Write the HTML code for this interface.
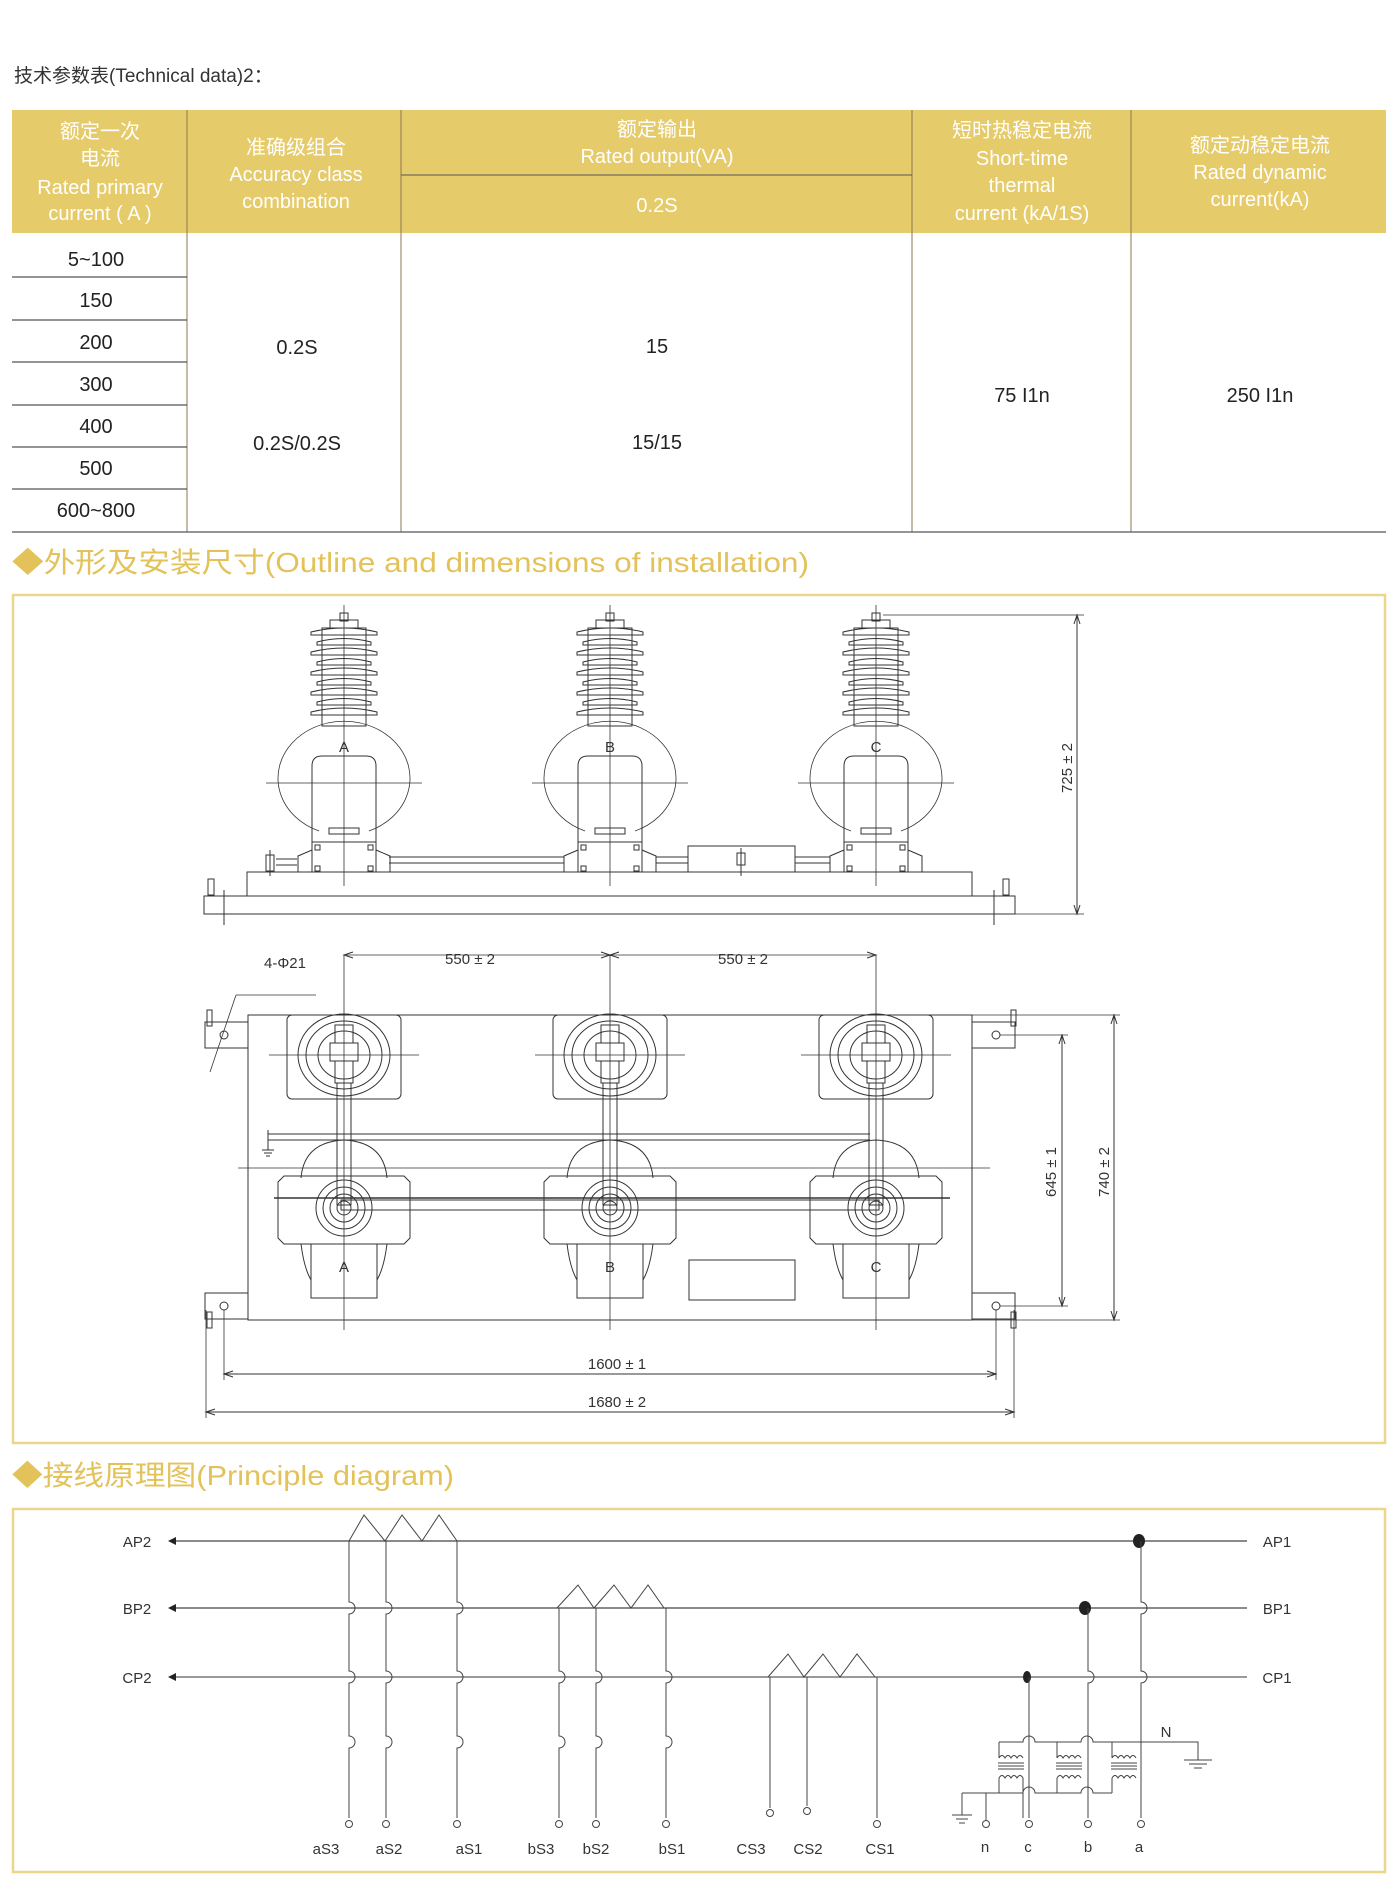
<!DOCTYPE html>
<html><head><meta charset="utf-8">
<style>
html,body{margin:0;padding:0;background:#fff;}
body{width:1399px;height:1891px;position:relative;overflow:hidden;font-family:"Liberation Sans","Noto Sans CJK SC",sans-serif;}
svg{position:absolute;left:0;top:0;}
</style></head><body>
<svg width="1399" height="1891" viewBox="0 0 1399 1891" xmlns="http://www.w3.org/2000/svg" font-family="Liberation Sans, Noto Sans CJK SC, sans-serif">
<defs>
<g id="front" fill="none" stroke="#333" stroke-width="1">
  <rect x="-4" y="613" width="8" height="8"/>
  <rect x="-14" y="620" width="28" height="8"/>
  <rect x="-22" y="628" width="44" height="98"/>
  <path d="M-33 632 Q0 624 33 632 L33 635 L-33 635Z"/>
  <path d="M-27 642 Q0 635 27 642 L27 645 L-27 645Z"/>
  <path d="M-33 652 Q0 644 33 652 L33 655 L-33 655Z"/>
  <path d="M-27 662 Q0 655 27 662 L27 665 L-27 665Z"/>
  <path d="M-33 672 Q0 664 33 672 L33 675 L-33 675Z"/>
  <path d="M-27 682 Q0 675 27 682 L27 685 L-27 685Z"/>
  <path d="M-33 692 Q0 684 33 692 L33 695 L-33 695Z"/>
  <path d="M-27 702 Q0 695 27 702 L27 705 L-27 705Z"/>
  <path d="M-33 712 Q0 704 33 712 L33 715 L-33 715Z"/>
  <path d="M-25 831 A66 57 0 1 1 25 831" stroke-width="0.8"/>
  <path d="M-32 872 V766 Q-32 756 -22 756 H22 Q32 756 32 766 V872"/>
  <rect x="-15" y="828" width="30" height="6"/>
  <path d="M-46 872 V856 L-32 850 M46 872 V856 L32 850"/>
  <line x1="-32" y1="842" x2="32" y2="842"/>
  <rect x="-29" y="845" width="5" height="5"/><rect x="24" y="845" width="5" height="5"/>
  <rect x="-29" y="866" width="5" height="5"/><rect x="24" y="866" width="5" height="5"/>
  <line x1="0" y1="605" x2="0" y2="886" stroke-width="0.8"/>
  <line x1="-78" y1="783" x2="78" y2="783" stroke-width="0.8"/>
</g>
<g id="top" fill="none" stroke="#333" stroke-width="1">
  <rect x="-57" y="1015" width="114" height="84" rx="5"/>
  <ellipse cx="0" cy="1055" rx="46" ry="41"/>
  <ellipse cx="0" cy="1055" rx="38" ry="34"/>
  <ellipse cx="0" cy="1055" rx="26" ry="24"/>
  <rect x="-9" y="1025" width="18" height="18"/>
  <rect x="-14" y="1043" width="28" height="18"/>
  <rect x="-9" y="1061" width="18" height="22"/>
  <line x1="-75" y1="1055" x2="75" y2="1055" stroke-width="0.7"/>
  <rect x="-7" y="1083" width="14" height="122"/>
  <path d="M-43 1178 Q-40 1142 0 1140 Q40 1142 43 1178"/>
  <path d="M-66 1182 L-60 1176 H60 L66 1182 V1238 L60 1244 H-60 L-66 1238Z"/>
  <path d="M-43 1244 Q-40 1268 -33 1280 M43 1244 Q40 1268 33 1280"/>
  <circle cx="0" cy="1208" r="28"/><circle cx="0" cy="1208" r="21"/><circle cx="0" cy="1208" r="14"/><circle cx="0" cy="1208" r="7"/>
  <rect x="-33" y="1244" width="66" height="54"/>
  <line x1="0" y1="955" x2="0" y2="1330" stroke-width="0.8"/>
</g>
</defs>

<text x="14" y="82" font-size="19" fill="#333">技术参数表(Technical data)2：</text>

<rect x="12" y="110" width="1374" height="123" fill="#e6cb6a"/>
<g stroke="#8a7a50" stroke-width="1">
<line x1="187" y1="110" x2="187" y2="532"/>
<line x1="401" y1="110" x2="401" y2="532"/>
<line x1="912" y1="110" x2="912" y2="532"/>
<line x1="1131" y1="110" x2="1131" y2="532"/>
<line x1="401" y1="175" x2="912" y2="175" stroke="#555"/>
</g>
<g stroke="#555" stroke-width="1.3">
<line x1="12" y1="277" x2="187" y2="277"/>
<line x1="12" y1="320" x2="187" y2="320"/>
<line x1="12" y1="362" x2="187" y2="362"/>
<line x1="12" y1="405" x2="187" y2="405"/>
<line x1="12" y1="447" x2="187" y2="447"/>
<line x1="12" y1="489" x2="187" y2="489"/>
<line x1="12" y1="532" x2="1386" y2="532"/>
</g>
<g fill="#fff" font-size="20" text-anchor="middle">
<text x="100" y="138">额定一次</text>
<text x="100" y="165">电流</text>
<text x="100" y="194">Rated primary</text>
<text x="100" y="220">current ( A )</text>
<text x="296" y="154">准确级组合</text>
<text x="296" y="181">Accuracy class</text>
<text x="296" y="208">combination</text>
<text x="657" y="136">额定输出</text>
<text x="657" y="163">Rated output(VA)</text>
<text x="657" y="212">0.2S</text>
<text x="1022" y="137">短时热稳定电流</text>
<text x="1022" y="165">Short-time</text>
<text x="1022" y="192">thermal</text>
<text x="1022" y="220">current (kA/1S)</text>
<text x="1260" y="152">额定动稳定电流</text>
<text x="1260" y="179">Rated dynamic</text>
<text x="1260" y="206">current(kA)</text>
</g>
<g fill="#222" font-size="20" text-anchor="middle">
<text x="96" y="266">5~100</text>
<text x="96" y="307">150</text>
<text x="96" y="349">200</text>
<text x="96" y="391">300</text>
<text x="96" y="433">400</text>
<text x="96" y="475">500</text>
<text x="96" y="517">600~800</text>
<text x="297" y="354">0.2S</text>
<text x="297" y="450">0.2S/0.2S</text>
<text x="657" y="353">15</text>
<text x="657" y="449">15/15</text>
<text x="1022" y="402">75 I1n</text>
<text x="1260" y="402">250 I1n</text>
</g>

<text x="12" y="572" font-size="28" fill="#e3c25a" textLength="797" lengthAdjust="spacingAndGlyphs">◆外形及安装尺寸(Outline and dimensions of installation)</text>
<text x="12" y="1485" font-size="28" fill="#e3c25a" textLength="442" lengthAdjust="spacingAndGlyphs">◆接线原理图(Principle diagram)</text>

<rect x="13" y="595" width="1372" height="848" fill="none" stroke="#ecd68a" stroke-width="2.5"/>
<rect x="13" y="1509" width="1372" height="363" fill="none" stroke="#ecd68a" stroke-width="2.5"/>

<g fill="none" stroke="#333" stroke-width="1">
<rect x="247" y="872" width="725" height="24"/>
<rect x="204" y="896" width="811" height="18"/>
<line x1="389" y1="857" x2="564" y2="857"/><line x1="389" y1="863" x2="564" y2="863"/>
<line x1="656" y1="857" x2="688" y2="857"/><line x1="656" y1="863" x2="688" y2="863"/>
<line x1="795" y1="857" x2="830" y2="857"/><line x1="795" y1="863" x2="830" y2="863"/>
<line x1="276" y1="859" x2="297" y2="859"/><line x1="276" y1="865" x2="297" y2="865"/>
<rect x="266" y="855" width="8" height="16"/><line x1="270" y1="850" x2="270" y2="876"/>
<rect x="688" y="846" width="107" height="26"/>
<rect x="737" y="853" width="8" height="12"/><line x1="741" y1="848" x2="741" y2="876"/>
<rect x="208" y="879" width="6" height="16"/><rect x="1003" y="879" width="6" height="16"/>
<line x1="224" y1="890" x2="224" y2="925"/><line x1="994" y1="890" x2="994" y2="925"/>
<line x1="1015" y1="914" x2="1084" y2="914" stroke-width="0.8"/>
<line x1="883" y1="615" x2="1084" y2="615" stroke-width="0.8"/>
<line x1="1077" y1="615" x2="1077" y2="914"/>
<path d="M1074 624 L1077 615 L1080 624 M1074 905 L1077 914 L1080 905" />
</g>
<use href="#front" x="344"/><use href="#front" x="610"/><use href="#front" x="876"/>
<g font-size="15" fill="#333" text-anchor="middle">
<text x="344" y="752">A</text><text x="610" y="752">B</text><text x="876" y="752">C</text>
<text x="0" y="0" transform="translate(1072,768) rotate(-90)">725 ± 2</text>
</g>

<g fill="none" stroke="#333" stroke-width="1">
<rect x="248" y="1015" width="724" height="305"/>
<rect x="205" y="1022" width="43" height="26"/><rect x="972" y="1022" width="43" height="26"/>
<rect x="205" y="1293" width="43" height="26"/><rect x="972" y="1293" width="43" height="26"/>
<circle cx="224" cy="1035" r="4"/><circle cx="996" cy="1035" r="4"/><circle cx="224" cy="1306" r="4"/><circle cx="996" cy="1306" r="4"/>
<rect x="207" y="1010" width="5" height="16"/><rect x="1011" y="1010" width="5" height="16"/><rect x="207" y="1312" width="5" height="16"/><rect x="1011" y="1312" width="5" height="16"/>
<line x1="238" y1="1168" x2="990" y2="1168" stroke-width="0.8"/>
<line x1="268" y1="1134" x2="870" y2="1134"/><line x1="268" y1="1140" x2="870" y2="1140"/>
<path d="M268 1130 V1150 M262 1150 H274 M264 1153 H272 M266 1156 H270"/>
<rect x="341" y="1200" width="538" height="10"/>
<line x1="274" y1="1198" x2="950" y2="1198" stroke-width="1.5"/>
<rect x="689" y="1260" width="106" height="40"/>
<line x1="344" y1="955" x2="876" y2="955" stroke-width="0.8"/>
<path d="M353 952 L344 955 L353 958 M601 952 L610 955 L601 958 M619 952 L610 955 L619 958 M867 952 L876 955 L867 958"/>
<line x1="210" y1="1072" x2="236" y2="995" stroke-width="0.8"/><line x1="236" y1="995" x2="316" y2="995" stroke-width="0.8"/>
<line x1="972" y1="1015" x2="1120" y2="1015" stroke-width="0.8"/>
<line x1="972" y1="1320" x2="1120" y2="1320" stroke-width="0.8"/>
<line x1="1000" y1="1035" x2="1068" y2="1035" stroke-width="0.8"/>
<line x1="1000" y1="1306" x2="1068" y2="1306" stroke-width="0.8"/>
<line x1="1062" y1="1035" x2="1062" y2="1306"/>
<path d="M1059 1044 L1062 1035 L1065 1044 M1059 1297 L1062 1306 L1065 1297"/>
<line x1="1114" y1="1015" x2="1114" y2="1320"/>
<path d="M1111 1024 L1114 1015 L1117 1024 M1111 1311 L1114 1320 L1117 1311"/>
<line x1="224" y1="1310" x2="224" y2="1380" stroke-width="0.8"/><line x1="996" y1="1310" x2="996" y2="1380" stroke-width="0.8"/>
<line x1="206" y1="1310" x2="206" y2="1418" stroke-width="0.8"/><line x1="1014" y1="1310" x2="1014" y2="1418" stroke-width="0.8"/>
<line x1="224" y1="1374" x2="996" y2="1374"/>
<path d="M233 1371 L224 1374 L233 1377 M987 1371 L996 1374 L987 1377"/>
<line x1="206" y1="1412" x2="1014" y2="1412"/>
<path d="M215 1409 L206 1412 L215 1415 M1005 1409 L1014 1412 L1005 1415"/>
</g>
<use href="#top" x="344"/><use href="#top" x="610"/><use href="#top" x="876"/>
<g font-size="15" fill="#333" text-anchor="middle">
<text x="344" y="1272">A</text><text x="610" y="1272">B</text><text x="876" y="1272">C</text>
<text x="470" y="964">550 ± 2</text><text x="743" y="964">550 ± 2</text>
<text x="285" y="968">4-Φ21</text>
<text x="617" y="1369">1600 ± 1</text><text x="617" y="1407">1680 ± 2</text>
<text transform="translate(1056,1172) rotate(-90)">645 ± 1</text>
<text transform="translate(1109,1172) rotate(-90)">740 ± 2</text>
</g>

<g fill="none" stroke="#444" stroke-width="1.3">
<line x1="172" y1="1541" x2="1247" y2="1541"/>
<line x1="172" y1="1608" x2="1247" y2="1608"/>
<line x1="172" y1="1677" x2="1247" y2="1677" stroke="#999" stroke-width="2"/>
</g>
<g fill="#222">
<path d="M168 1541 L176 1537 L176 1545Z"/><path d="M168 1608 L176 1604 L176 1612Z"/><path d="M168 1677 L176 1673 L176 1681Z"/>
<ellipse cx="1139" cy="1541" rx="6" ry="7"/><ellipse cx="1085" cy="1608" rx="6" ry="7"/><ellipse cx="1027" cy="1677" rx="4" ry="6"/>
</g>
<g fill="none" stroke="#444" stroke-width="1">
<polyline points="349,1541 364,1515 385,1541 402,1515 422,1541 439,1515 457,1541"/>
<polyline points="557,1608 578,1585 594,1608 614,1585 631,1608 648,1585 664,1608"/>
<polyline points="768,1677 788,1654 804,1677 823,1654 840,1677 857,1654 875,1677"/>
<path d="M349 1541 V1602 a6 6 0 0 1 0 12 V1671 a6 6 0 0 1 0 12 V1736 a6 6 0 0 1 0 12 V1818"/>
<path d="M386 1541 V1602 a6 6 0 0 1 0 12 V1671 a6 6 0 0 1 0 12 V1736 a6 6 0 0 1 0 12 V1818"/>
<path d="M457 1541 V1602 a6 6 0 0 1 0 12 V1671 a6 6 0 0 1 0 12 V1736 a6 6 0 0 1 0 12 V1818"/>
<path d="M559 1608 V1671 a6 6 0 0 1 0 12 V1736 a6 6 0 0 1 0 12 V1818"/>
<path d="M596 1608 V1671 a6 6 0 0 1 0 12 V1736 a6 6 0 0 1 0 12 V1818"/>
<path d="M666 1608 V1671 a6 6 0 0 1 0 12 V1736 a6 6 0 0 1 0 12 V1818"/>
<line x1="770" y1="1677" x2="770" y2="1808"/>
<line x1="807" y1="1677" x2="807" y2="1806"/>
<line x1="877" y1="1677" x2="877" y2="1818"/>
<path d="M1141 1541 V1602 a6 6 0 0 1 0 12 V1671 a6 6 0 0 1 0 12 V1818"/>
<path d="M1088 1608 V1671 a6 6 0 0 1 0 12 V1818"/>
<line x1="1029" y1="1677" x2="1029" y2="1818"/>
<circle cx="349" cy="1824" r="3.5"/><circle cx="386" cy="1824" r="3.5"/><circle cx="457" cy="1824" r="3.5"/>
<circle cx="559" cy="1824" r="3.5"/><circle cx="596" cy="1824" r="3.5"/><circle cx="666" cy="1824" r="3.5"/>
<circle cx="770" cy="1813" r="3.5"/><circle cx="807" cy="1811" r="3.5"/><circle cx="877" cy="1824" r="3.5"/>
<circle cx="986" cy="1824" r="3.5"/><circle cx="1029" cy="1824" r="3.5"/><circle cx="1088" cy="1824" r="3.5"/><circle cx="1141" cy="1824" r="3.5"/>
<path d="M999 1742 H1023 a6 6 0 0 1 12 0 H1081 a6 6 0 0 1 12 0 H1198 V1760"/>
<path d="M1184 1760 H1212 M1189 1764 H1207 M1194 1768 H1202"/>
<path d="M999 1742 V1758 M1057 1742 V1758 M1112 1742 V1758"/>
<path d="M999 1758 q3 -5 6 0 q3 -5 6 0 q3 -5 6 0 q3 -5 6 0"/>
<path d="M1057 1758 q3 -5 6 0 q3 -5 6 0 q3 -5 6 0 q3 -5 6 0"/>
<path d="M1112 1758 q3 -5 6 0 q3 -5 6 0 q3 -5 6 0 q3 -5 6 0"/>
<path d="M998 1763 H1024 M998 1766 H1024 M998 1769 H1024 M1056 1763 H1082 M1056 1766 H1082 M1056 1769 H1082 M1111 1763 H1137 M1111 1766 H1137 M1111 1769 H1137"/>
<path d="M999 1778 q3 -5 6 0 q3 -5 6 0 q3 -5 6 0 q3 -5 6 0 V1818"/>
<path d="M1057 1778 q3 -5 6 0 q3 -5 6 0 q3 -5 6 0 q3 -5 6 0"/>
<path d="M1112 1778 q3 -5 6 0 q3 -5 6 0 q3 -5 6 0 q3 -5 6 0"/>
<path d="M999 1778 V1793 M1057 1778 V1793 M1112 1778 V1793"/>
<path d="M962 1793 H1023 a6 6 0 0 1 12 0 H1081 a6 6 0 0 1 12 0 H1112"/>
<path d="M962 1793 V1815 M952 1815 H972 M956 1819 H968 M959 1823 H965"/>
<line x1="986" y1="1793" x2="986" y2="1820"/>
</g>
<g font-size="15" fill="#333" text-anchor="middle">
<text x="137" y="1547">AP2</text><text x="137" y="1614">BP2</text><text x="137" y="1683">CP2</text>
<text x="1277" y="1547">AP1</text><text x="1277" y="1614">BP1</text><text x="1277" y="1683">CP1</text>
<text x="1166" y="1737">N</text>
<text x="326" y="1854">aS3</text><text x="389" y="1854">aS2</text><text x="469" y="1854">aS1</text>
<text x="541" y="1854">bS3</text><text x="596" y="1854">bS2</text><text x="672" y="1854">bS1</text>
<text x="751" y="1854">CS3</text><text x="808" y="1854">CS2</text><text x="880" y="1854">CS1</text>
<text x="985" y="1852">n</text><text x="1028" y="1852">c</text><text x="1088" y="1852">b</text><text x="1139" y="1852">a</text>
</g>
</svg>
</body></html>
